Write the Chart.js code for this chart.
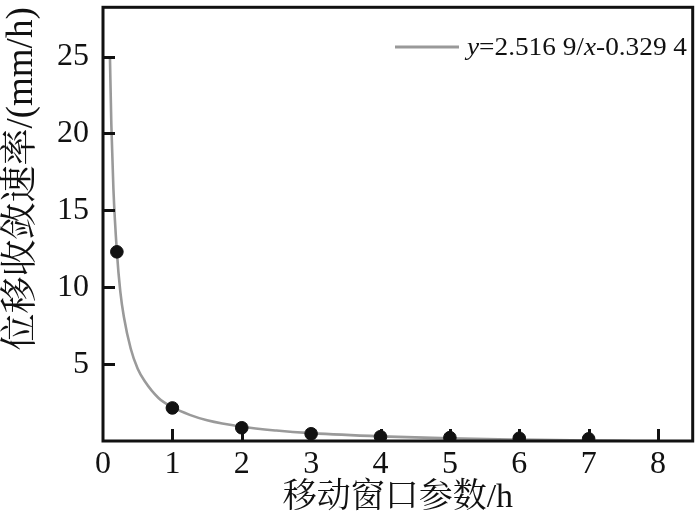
<!DOCTYPE html>
<html>
<head>
<meta charset="utf-8">
<script src="https://cdn.jsdelivr.net/npm/chart.js@4/dist/chart.umd.min.js"></script>
<style>
  html, body { margin: 0; padding: 0; background: #ffffff; }
  #wrap { width: 700px; height: 518px; position: relative; }
</style>
</head>
<body>
<div id="wrap"><canvas id="c" width="700" height="518"></canvas></div>
<script>
// ---- data ----
const windowHours = [0.2, 1, 2, 3, 4, 5, 6, 7];
const convergenceRate = [12.3, 2.15, 0.86, 0.47, 0.28, 0.22, 0.18, 0.14];

const fitX = [0.10, 0.12, 0.15, 0.2, 0.25, 0.3, 0.4, 0.5, 0.6, 0.8, 1.0, 1.25, 1.5, 2, 2.5, 3, 4, 5, 6, 7, 7.6];
const fitY = [25.0, 20.6, 16.4, 12.3, 9.7, 8.1, 6.0, 4.7, 3.9, 2.8, 2.2, 1.7, 1.35, 0.93, 0.68, 0.51, 0.30, 0.17, 0.09, 0.03, 0.0];

const xTicks = [0, 1, 2, 3, 4, 5, 6, 7, 8];
const yTicks = [5, 10, 15, 20, 25];

const xTitle = '移动窗口参数/h';
const yTitle = '位移收敛速率/(mm/h)';
const legendParts = [
  { t: 'y', italic: true },
  { t: '=2.516 9/', italic: false },
  { t: 'x', italic: true },
  { t: '-0.329 4', italic: false }
];

const SERIF = "'Liberation Serif', 'Noto Serif CJK SC', 'Noto Sans CJK SC', serif";

function noPad(s) { s.paddingLeft = 0; s.paddingRight = 0; s.paddingTop = 0; s.paddingBottom = 0; }

const framePlugin = {
  id: 'frame',
  afterDatasetsDraw(chart) {
    const { ctx, chartArea: a, scales } = chart;
    ctx.save();
    ctx.strokeStyle = '#111';
    ctx.lineWidth = 3;
    ctx.beginPath();
    yTicks.forEach(v => {
      const y = Math.round(scales.y.getPixelForValue(v)) + 0.5;
      ctx.moveTo(a.left, y);
      ctx.lineTo(a.left + 12, y);
    });
    xTicks.forEach(v => {
      if (v === 0) return;
      const x = Math.round(scales.x.getPixelForValue(v)) + 0.5;
      ctx.moveTo(x, a.bottom);
      ctx.lineTo(x, a.bottom - 12);
    });
    ctx.stroke();
    ctx.strokeRect(a.left, a.top, a.right - a.left, a.bottom - a.top);
    ctx.restore();
  },
  afterDraw(chart) {
    const { ctx } = chart;
    ctx.save();
    const ly = 47;
    ctx.strokeStyle = '#999';
    ctx.lineWidth = 3;
    ctx.beginPath();
    ctx.moveTo(395, ly);
    ctx.lineTo(459, ly);
    ctx.stroke();
    ctx.fillStyle = '#111';
    ctx.textBaseline = 'middle';
    ctx.textAlign = 'left';
    let total = 0;
    legendParts.forEach(p => {
      ctx.font = (p.italic ? 'italic ' : '') + "26px " + SERIF;
      total += ctx.measureText(p.t).width;
    });
    const sx = Math.min(1.25, 220 / total);
    ctx.translate(467, ly);
    ctx.scale(sx, 1);
    let cx = 0;
    legendParts.forEach(p => {
      ctx.font = (p.italic ? 'italic ' : '') + "26px " + SERIF;
      ctx.fillText(p.t, cx, 1);
      cx += ctx.measureText(p.t).width;
    });
    ctx.restore();
  }
};

new Chart(document.getElementById('c'), {
  type: 'scatter',
  data: {
    datasets: [
      {
        label: 'fit',
        type: 'line',
        data: fitX.map((x, i) => ({ x, y: fitY[i] })),
        borderColor: '#9a9a9a',
        borderWidth: 2.6,
        pointRadius: 0,
        cubicInterpolationMode: 'monotone',
        fill: false,
        clip: 0,
        order: 2
      },
      {
        label: 'data',
        data: windowHours.map((x, i) => ({ x, y: convergenceRate[i] })),
        backgroundColor: '#111',
        borderColor: '#111',
        pointRadius: 6.3,
        pointHoverRadius: 6.3,
        clip: 0,
        order: 1
      }
    ]
  },
  options: {
    responsive: false,
    animation: false,
    events: [],
    layout: { padding: { top: 3, right: 3, left: 0, bottom: 0 } },
    plugins: { legend: { display: false }, tooltip: { enabled: false } },
    scales: {
      x: {
        type: 'linear',
        min: 0,
        max: 8.5,
        afterBuildTicks(s) { s.ticks = xTicks.map(v => ({ value: v })); },
        afterFit(s) { s.height = 77; noPad(s); },
        grid: { display: false, drawTicks: false },
        border: { display: false },
        ticks: { color: '#111', padding: 4, font: { family: SERIF, size: 32 } },
        title: { display: true, text: xTitle, color: '#111', padding: { top: 0, bottom: 0 }, font: { family: SERIF, size: 34 } }
      },
      y: {
        type: 'linear',
        min: 0,
        max: 28.2,
        afterBuildTicks(s) { s.ticks = yTicks.map(v => ({ value: v })); },
        afterFit(s) { s.width = 103; noPad(s); },
        grid: { display: false, drawTicks: false },
        border: { display: false },
        ticks: { color: '#111', padding: 14, font: { family: SERIF, size: 32 } },
        title: { display: true, text: yTitle, color: '#111', align: 'end', padding: { top: 0, bottom: 0 }, font: { family: SERIF, size: 37 } }
      }
    }
  },
  plugins: [framePlugin]
});
</script>
</body>
</html>
